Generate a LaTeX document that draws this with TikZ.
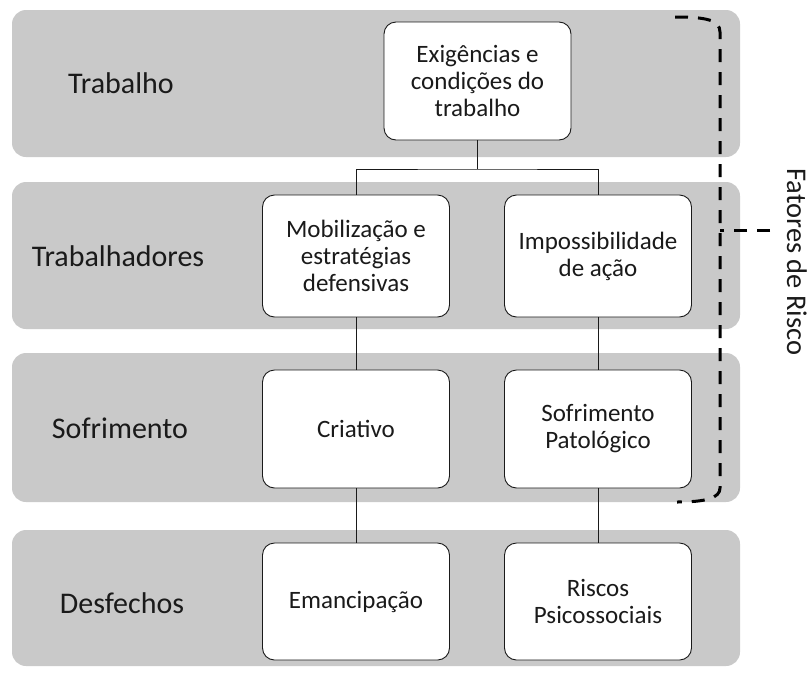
\documentclass[tikz,border=0pt]{standalone}
\usepackage{fontspec}
\setmainfont{Carlito}
\definecolor{bandgray}{RGB}{201,201,201}
\definecolor{ink}{RGB}{26,26,26}
\begin{document}
\begin{tikzpicture}[x=1pt,y=-1pt,
  band/.style={fill=bandgray, rounded corners=14pt},
  box/.style={draw=ink, fill=white, rounded corners=12pt, line width=0.9pt,
              minimum width=187pt, inner sep=2pt, align=center, text=ink,
              font=\fontsize{25}{27}\selectfont},
  lbl/.style={text=ink, font=\fontsize{30}{36}\selectfont},
  conn/.style={draw=ink, line width=0.9pt},
  risk/.style={draw=black, line width=3pt, dash pattern=on 13pt off 10pt}]
\useasboundingbox (0,0) rectangle (811,678);
% bands
\fill[band] (12,10) rectangle (740,157);
\fill[band] (12,182) rectangle (740,329);
\fill[band] (12,353) rectangle (740,502);
\fill[band] (12,530) rectangle (740,666);
% row labels
\node[lbl] (l1) at (121,83) {Trabalho};
\node[lbl] (l2) at (118,256) {Trabalhadores};
\node[lbl] (l3) at (120,428) {Sofrimento};
\node[lbl] (l4) at (122,603) {Desfechos};
% boxes
\node[box, minimum height=118pt] (top) at (477.5,81) {Exigências e\\condições do\\trabalho};
\node[box, minimum height=122pt] (mob) at (356,256) {Mobilização e\\estratégias\\defensivas};
\node[box, minimum height=122pt] (imp) at (598,256) {Impossibilidade\\de ação};
\node[box, minimum height=118pt] (cri) at (356,429) {Criativo};
\node[box, minimum height=118pt] (sof) at (598,429) {Sofrimento\\Patológico};
\node[box, minimum height=117pt] (ema) at (356,601.5) {Emancipação};
\node[box, minimum height=117pt] (ris) at (598,601.5) {Riscos\\Psicossociais};
% connectors
\coordinate (split) at (477.5,169);
\draw[conn] (top.south) -- (split);
\draw[conn] (mob.north) |- (split) -| (imp.north);
\draw[conn] (mob) -- (cri);
\draw[conn] (cri) -- (ema);
\draw[conn] (imp) -- (sof);
\draw[conn] (sof) -- (ris);
% risk bracket
\coordinate (bt) at (675,17);
\coordinate (bb) at (677,502);
\draw[risk] (bt) .. controls (706,17) and (720,20) .. (720,32) -- (720,488)
  .. controls (720,498) and (706,502) .. (bb);
\coordinate (tickstart) at (720,230);
\coordinate (tickend) at (770,230);
\draw[risk] (tickend) -- (tickstart);
\node[rotate=-90, text=ink, font=\fontsize{28.5}{32}\selectfont] (risklbl) at (797,262) {Fatores de Risco};
\end{tikzpicture}
\end{document}
